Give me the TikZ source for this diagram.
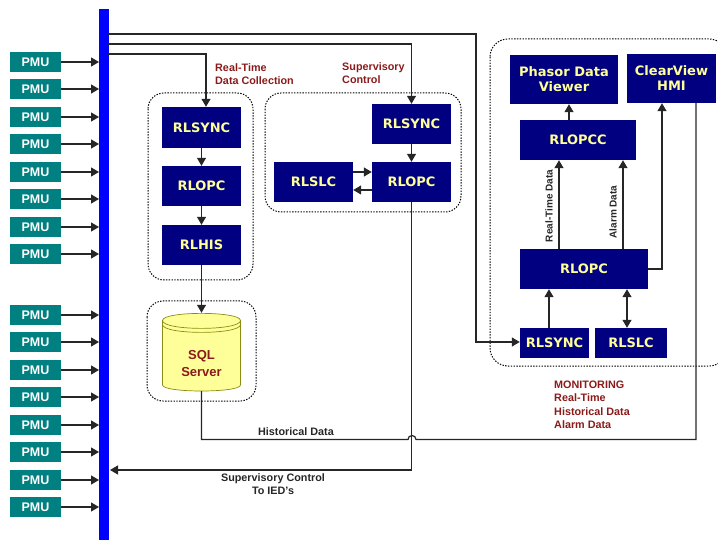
\documentclass[tikz,border=0pt]{standalone}
\usepackage{fontspec}
\setmainfont{Liberation Sans}
\newfontfamily\boxfont{DejaVu Sans}
\usepackage{tikz}
\usetikzlibrary{arrows.meta,positioning}
\definecolor{busblue}{HTML}{0000FF}
\definecolor{boxnavy}{HTML}{000080}
\definecolor{boxyellow}{HTML}{FFFF99}
\definecolor{cylline}{HTML}{8C8C14}
\definecolor{pmuteal}{HTML}{008080}
\definecolor{notered}{HTML}{8B1A1A}
\tikzset{
  appbox/.style={fill=boxnavy,text=boxyellow,font=\boxfont\bfseries\fontsize{13}{15}\selectfont,align=center,inner sep=0pt},
  pmubox/.style={fill=pmuteal,text=white,font=\bfseries\fontsize{12.5}{14}\selectfont,minimum width=51pt,minimum height=20pt,inner sep=0pt},
  groupbox/.style={draw=black,line width=1pt,dash pattern=on 1.4pt off 1.4pt,rounded corners=16pt},
  link/.style={draw=black!85,line width=1.2pt,-{Triangle[length=8pt,width=9pt]}},
  plain/.style={draw=black!85,line width=1.2pt},
  note/.style={text=notered,font=\bfseries\fontsize{10.8}{13.4}\selectfont,align=left,inner sep=0pt},
  caption/.style={text=black!85,font=\bfseries\fontsize{10.8}{13}\selectfont,align=center,inner sep=0pt}
}
\begin{document}
\begin{tikzpicture}[x=1pt,y=-1pt]
  \useasboundingbox (0,0) rectangle (718,540);
  % dotted groups
  \draw[groupbox] (148,93) rectangle (253,280);
  \draw[groupbox] (147,301) rectangle (256,401);
  \draw[groupbox] (265,93) rectangle (461,212);
  \draw[groupbox,rounded corners=18pt] (490,39) rectangle (727,366);
  % bus
  \fill[busblue] (99,9) rectangle (109,540);
  \coordinate (bustop) at (108,34);
  \coordinate (busmid) at (108,44);
  \coordinate (buslow) at (108,54);
  \coordinate (busin) at (110,470);
  % PMUs
  \foreach \y [count=\i] in {62,89,117,144,172,199,227,254,315,342,370,397,425,452,480,507} {
    \node[pmubox] (pmu\i) at (35.5,\y) {PMU};
    \coordinate (busp\i) at (99,\y);
    \draw[link] (pmu\i) -- (busp\i);
  }
  % boxes
  \node[appbox,minimum width=79pt,minimum height=41pt] (syncA) at (201.5,127.5) {RLSYNC};
  \node[appbox,minimum width=79pt,minimum height=40pt] (opcA) at (201.5,186) {RLOPC};
  \node[appbox,minimum width=79pt,minimum height=40pt] (hisA) at (201.5,245) {RLHIS};
  \node[appbox,minimum width=79pt,minimum height=40pt] (syncB) at (411.5,124) {RLSYNC};
  \node[appbox,minimum width=79pt,minimum height=40pt] (opcB) at (411.5,182) {RLOPC};
  \node[appbox,minimum width=79pt,minimum height=40pt] (slcB) at (313.5,182) {RLSLC};
  \node[appbox,minimum width=108pt,minimum height=49pt] (viewer) at (564,79.5) {Phasor Data\\Viewer};
  \node[appbox,minimum width=89pt,minimum height=49pt] (hmi) at (671.5,78.5) {ClearView\\HMI};
  \node[appbox,minimum width=116pt,minimum height=40pt] (opcc) at (578,140) {RLOPCC};
  \node[appbox,minimum width=128pt,minimum height=40pt] (opcC) at (584,269) {RLOPC};
  \node[appbox,minimum width=69pt,minimum height=30pt] (syncC) at (554.5,343) {RLSYNC};
  \node[appbox,minimum width=72pt,minimum height=30pt] (slcC) at (631,343) {RLSLC};
  % database
  \draw[draw=cylline,fill=boxyellow,line width=0.7pt] (162.5,320.5) -- (162.5,385)
    .. controls (162.5,393) and (240.5,393) .. (240.5,385) -- (240.5,320.5)
    .. controls (240.5,311) and (162.5,311) .. (162.5,320.5) -- cycle;
  \draw[draw=cylline,line width=0.7pt] (162.5,320.5) .. controls (162.5,331) and (240.5,331) .. (240.5,320.5);
  \draw[draw=cylline,line width=0.7pt] (162.5,324.5) .. controls (162.5,335) and (240.5,335) .. (240.5,324.5);
  \node[text=notered,font=\bfseries\fontsize{13}{17}\selectfont,align=center,minimum width=79pt,minimum height=78pt,inner sep=0pt] (sql) at (201.5,352) {\rule{0pt}{15pt}\\SQL\\Server};
  % links from the bus
  \draw[link] (buslow) -| (syncA.north -| 206,0);
  \draw[link] (busmid) -| (syncB.north);
  \draw[link] (bustop) -| (476,342) -- (syncC.west |- 0,342);
  % links inside the groups
  \draw[link] (syncA) -- (opcA);
  \draw[link] (opcA) -- (hisA);
  \draw[link] (hisA) -- (sql);
  \draw[link] (syncB) -- (opcB);
  \draw[link] (slcB.east |- 0,172) -- (opcB.west |- 0,172);
  \draw[link] (opcB.west |- 0,190) -- (slcB.east |- 0,190);
  \draw[link] (opcc.north -| 569,0) -- (viewer.south -| 569,0);
  \draw[link] (opcC.north -| 559,0) -- (opcc.south -| 559,0);
  \draw[link] (opcC.north -| 623,0) -- (opcc.south -| 623,0);
  \draw[link] (opcC.east) -| (hmi.south -| 662,0);
  \draw[link] (syncC.north -| 549,0) -- (opcC.south -| 549,0);
  \draw[link,{Triangle[length=8pt,width=9pt]}-{Triangle[length=8pt,width=9pt]}] (opcC.south -| 627,0) -- (slcC.north -| 627,0);
  % long runs along the bottom
  \coordinate (hopw) at (408,439.5);
  \coordinate (hope) at (416,439.5);
  \draw[plain] (sql.south) |- (hopw) arc[start angle=180,end angle=0,radius=4pt] -- (696,439.5) -- (hmi.south -| 696,0);
  \draw[link] (opcB.south) |- (busin);
  % labels
  \node[note,anchor=north west] (lblcollect) at (215,63) {Real-Time\\Data Collection};
  \node[note,anchor=north west] (lblsuper) at (342,62) {Supervisory\\Control};
  \node[note,anchor=north west] (lblmon) at (554,380.5) {MONITORING\\Real-Time\\Historical Data\\Alarm Data};
  \node[caption] (lblhist) at (296,432) {Historical Data};
  \node[caption,anchor=north] (lblied) at (273,473) {Supervisory Control\\To IED's};
  \node[caption,rotate=90,font=\bfseries\fontsize{10}{11}\selectfont] (lblreal) at (549,206) {Real-Time Data};
  \node[caption,rotate=90,font=\bfseries\fontsize{10}{11}\selectfont] (lblalarm) at (613,212) {Alarm Data};
\end{tikzpicture}
\end{document}
